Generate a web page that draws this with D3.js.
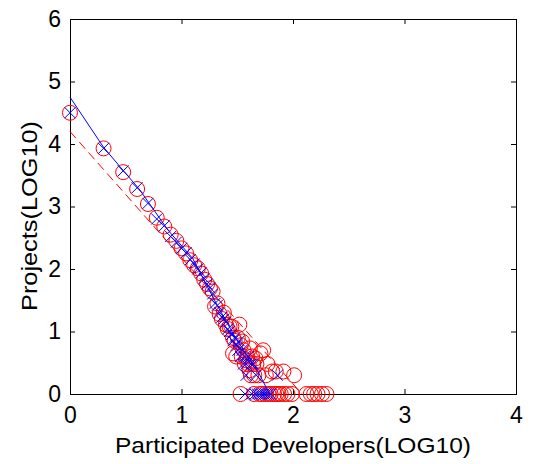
<!DOCTYPE html>
<html><head><meta charset="utf-8">
<script src="https://cdn.jsdelivr.net/npm/d3@7"></script>
<style>
html,body{margin:0;padding:0;background:#fff;}
svg{display:block;font-family:"Liberation Sans",Arial,sans-serif;}
</style></head>
<body>
<svg id="chart" width="537" height="464"></svg>
<script>
// Red circles: observed (log10 developers, log10 projects)
const redX = [0,0.301,0.477,0.602,0.699,0.778,0.845,0.903,0.954,1.0,1.041,1.079,1.114,1.146,1.176,
  1.204,1.230,1.255,1.279,1.301,1.322,1.342,1.362,1.380,1.398,1.415,1.431,1.447,1.462,1.477,
  1.491,1.505,1.519,1.531,1.544,1.556,1.568,1.580,1.591,1.602,1.613,1.623,1.633,1.643,1.653,1.663,1.672,1.690,1.708,1.732,1.756,1.771,1.813,1.845,1.914,2.010,1.462,1.540,1.610,
  1.53,1.65,1.70,1.72,1.75,1.78,1.80,1.83,1.85,1.87,1.89,1.92,1.95,1.99,2.12,2.16,2.19,2.22,2.26,2.30];
const redY = [4.50,3.93,3.55,3.28,3.04,2.82,2.68,2.55,2.45,2.33,2.25,2.14,2.06,2.01,1.93,
  1.83,1.76,1.69,1.64,1.40,1.45,1.28,1.20,1.30,1.11,1.04,1.08,1.08,0.90,0.85,
  0.60,0.90,1.11,0.78,0.84,0.70,0.48,0.54,0.60,0.48,0.73,0.30,0.60,0.48,0.30,0.57,0.48,0.30,0.65,0.70,0.30,0.48,0.36,0.36,0.36,0.30,0.65,0.60,0.38,
  0,0,0,0,0,0,0,0,0,0,0,0,0,0,0,0,0,0,0,0];
// Blue crosses: second data set
const blueX = [0,0.301,0.477,0.602,0.699,0.778,0.845,0.903,0.954,1.0,1.041,1.079,1.114,1.146,1.176,
  1.204,1.230,1.255,1.279,1.301,1.322,1.342,1.362,1.380,1.398,1.415,1.431,1.447,1.462,1.477,
  1.491,1.505,1.519,1.531,1.544,1.556,1.568,1.580,1.602,1.623,1.643,1.580,1.670,1.860,
  1.57,1.63,1.66,1.68,1.70,1.72,1.74,1.76,1.78,1.80];
const blueY = [4.50,3.93,3.57,3.30,3.05,2.80,2.69,2.52,2.43,2.33,2.26,2.15,2.08,2.00,1.94,
  1.85,1.76,1.70,1.60,1.45,1.42,1.30,1.23,1.20,1.15,1.04,1.00,0.95,0.85,0.90,
  0.78,0.70,0.85,0.60,0.70,0.48,0.60,0.48,0.60,0.48,0.48,0.30,0.30,0.30,
  0,0,0,0,0,0,0,0,0,0];
// Blue solid fitted curve
const fitBlueX = [0,0.30,0.48,0.62,0.88,1.10,1.32,1.50,1.68,1.79];
const fitBlueY = [4.75,3.95,3.57,3.28,2.62,2.17,1.42,0.85,0.38,0.0];
// Red dashed fitted line
const fitRedX = [0,2.08];
const fitRedY = [4.20,0.0];
const xTicks = [0,1,2,3,4];
const yTicks = [0,1,2,3,4,5,6];
const xLabel = "Participated Developers(LOG10)";
const yLabel = "Projects(LOG10)";

const L=70,R=516,T=19,B=394;
const svg = d3.select("#chart");
const x = d3.scaleLinear().domain([0,4]).range([L,R]);
const y = d3.scaleLinear().domain([0,6]).range([B,T]);

const g = svg.append("g");
svg.append("defs").append("clipPath").attr("id","pc")
  .append("rect").attr("x",L-12).attr("y",T).attr("width",R-L+12).attr("height",B-T+12);

const tickFont = 23;
function styleAxis(sel, labels){
  sel.select(".domain").remove();
  sel.selectAll("line").attr("stroke","#000");
  sel.selectAll("text").attr("font-size",tickFont).attr("fill","#000")
    .attr("font-family","Liberation Sans, Arial, sans-serif");
  if(!labels) sel.selectAll("text").remove();
}
const xb = g.append("g").attr("transform",`translate(0,${B})`)
  .call(d3.axisBottom(x).tickValues(xTicks).tickFormat(d3.format("d")).tickSize(-5).tickPadding(13));
styleAxis(xb,true);
const xt = g.append("g").attr("transform",`translate(0,${T})`)
  .call(d3.axisTop(x).tickValues(xTicks).tickSize(-5));
styleAxis(xt,false);
const yl = g.append("g").attr("transform",`translate(${L},0)`)
  .call(d3.axisLeft(y).tickValues(yTicks).tickFormat(d3.format("d")).tickSize(-5).tickPadding(9));
styleAxis(yl,true);
const yr = g.append("g").attr("transform",`translate(${R},0)`)
  .call(d3.axisRight(y).tickValues(yTicks).tickSize(-5));
styleAxis(yr,false);

// frame
g.append("rect").attr("x",L+0.5).attr("y",T+0.5).attr("width",R-L).attr("height",B-T)
  .attr("fill","none").attr("stroke","#000").attr("stroke-width",1);

const data = g.append("g").attr("clip-path","url(#pc)");
const line = d3.line().x(d=>x(d[0])).y(d=>y(d[1]));

// red circles
data.selectAll("circle.r").data(d3.zip(redX,redY)).join("circle")
  .attr("cx",d=>x(d[0])).attr("cy",d=>y(d[1])).attr("r",7.5)
  .attr("fill","none").attr("stroke","#ff0000").attr("stroke-width",1);

// red dashed line
data.append("path").datum(d3.zip(fitRedX,fitRedY)).attr("d",line)
  .attr("fill","none").attr("stroke","#ff0000").attr("stroke-width",1).attr("stroke-dasharray","9,5");

// blue line
data.append("path").datum(d3.zip(fitBlueX,fitBlueY)).attr("d",line)
  .attr("fill","none").attr("stroke","#0000ff").attr("stroke-width",1);

// blue crosses
const s=5.5;
data.selectAll("path.bx").data(d3.zip(blueX,blueY)).join("path")
  .attr("d",d=>{const cx=x(d[0]),cy=y(d[1]);return `M${cx-s},${cy-s}L${cx+s},${cy+s}M${cx-s},${cy+s}L${cx+s},${cy-s}`;})
  .attr("fill","none").attr("stroke","#0000ff").attr("stroke-width",1);

// axis labels
svg.append("text").attr("x",(L+R)/2).attr("y",453).attr("text-anchor","middle")
  .attr("font-size",22).attr("fill","#000").attr("textLength",356).attr("lengthAdjust","spacingAndGlyphs")
  .text(xLabel);
svg.append("text").attr("transform",`translate(37,${216}) rotate(-90)`).attr("text-anchor","middle")
  .attr("font-size",22).attr("fill","#000").attr("textLength",190).attr("lengthAdjust","spacingAndGlyphs")
  .text(yLabel);
</script>
</body></html>
